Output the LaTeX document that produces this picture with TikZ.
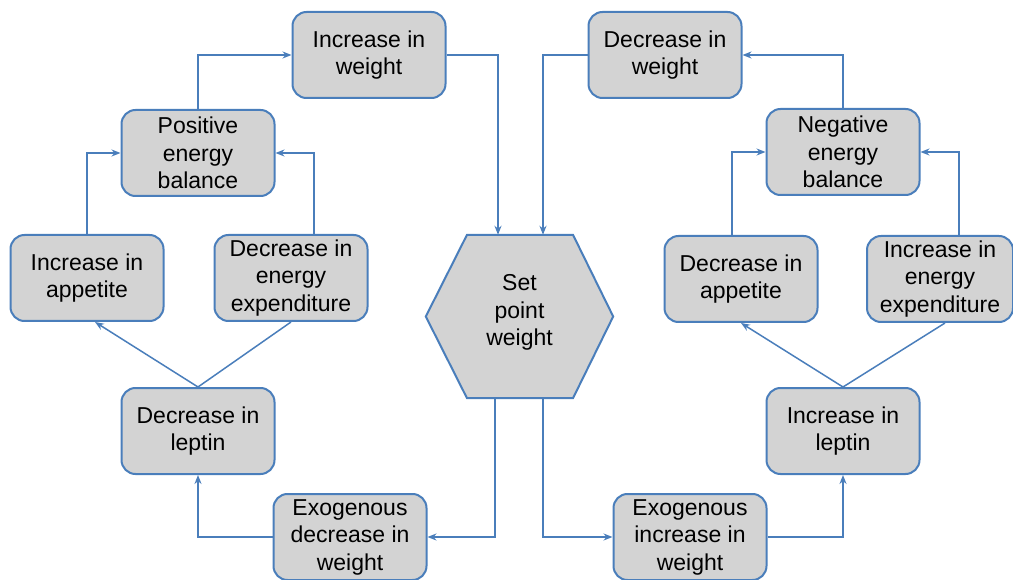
\documentclass[tikz,border=0pt]{standalone}
\usepackage{fontspec}
\setmainfont{Liberation Sans}
\usetikzlibrary{arrows.meta}
\definecolor{bblue}{RGB}{74,126,187}
\definecolor{bgray}{RGB}{211,211,211}
\tikzset{
 box/.style={draw=bblue, fill=bgray, line width=2pt, rounded corners=14pt, minimum width=153pt, minimum height=86pt, align=center, font=\fontsize{23}{27.5}\selectfont, inner sep=0pt},
 conn/.style={draw=bblue, line width=1.5pt},
 arr/.style={conn, -{Stealth[length=9pt,width=7pt]}}
}
\begin{document}
\begin{tikzpicture}[x=1pt,y=-1pt]
\useasboundingbox (0,0) rectangle (1013,580);
% left side
\node[box] (iw) at (369,55) {Increase in\\weight};
\node[box] (peb) at (198,153) {Positive\\energy\\balance};
\node[box] (ia) at (87,278) {Increase in\\appetite};
\node[box] (dee) at (291,278) {Decrease in\\energy\\expenditure};
\node[box] (dl) at (198,431) {Decrease in\\leptin};
\node[box] (edw) at (350,537) {Exogenous\\decrease in\\weight};
% right side
\node[box] (dw) at (665,55) {Decrease in\\weight};
\node[box] (neb) at (843,152) {Negative\\energy\\balance};
\node[box] (da) at (741,279) {Decrease in\\appetite};
\node[box, minimum width=146pt] (iee) at (940,279) {Increase in\\energy\\expenditure};
\node[box] (il) at (843,431) {Increase in\\leptin};
\node[box] (eiw) at (690,537) {Exogenous\\increase in\\weight};
% hexagon
\node[minimum width=187pt, minimum height=163pt, inner sep=0pt, align=center, font=\fontsize{23}{27.5}\selectfont] (hex) at (519.5,316.5) {};
\draw[draw=bblue, fill=bgray, line width=2pt, line join=miter] (hex.west) -- ([xshift=-52.5pt]hex.north) -- ([xshift=53.5pt]hex.north) -- (hex.east) -- ([xshift=53.5pt]hex.south) -- ([xshift=-52.5pt]hex.south) -- cycle;
\node[align=center, font=\fontsize{23}{27.5}\selectfont, inner sep=0pt] (hextxt) at ([yshift=4pt]hex.center) {Set\\point\\weight};
% left connectors
\draw[arr] (peb.north) |- (iw.west);
\draw[arr] (iw.east) -| ([xshift=-21.5pt]hex.north);
\draw[arr] (ia.north) |- (peb.west);
\draw[arr] ([xshift=23pt]dee.north) |- (peb.east);
\draw[arr] (dl.north) -- ([xshift=8pt]ia.south);
\draw[conn] (dl.north) -- (dee.south);
\draw[arr] (edw.west) -| (dl.south);
\draw[arr] ([xshift=-24.5pt]hex.south) |- (edw.east);
% right connectors
\draw[arr] (dw.west) -| ([xshift=23.5pt]hex.north);
\draw[arr] (neb.north) |- (dw.east);
\draw[arr] ([xshift=-9pt]da.north) |- (neb.west);
\draw[arr] ([xshift=19pt]iee.north) |- (neb.east);
\draw[arr] (il.north) -- (da.south);
\draw[conn] (il.north) -- ([xshift=5pt]iee.south);
\draw[arr] ([xshift=23.5pt]hex.south) |- (eiw.west);
\draw[arr] (eiw.east) -| (il.south);
\end{tikzpicture}
\end{document}
